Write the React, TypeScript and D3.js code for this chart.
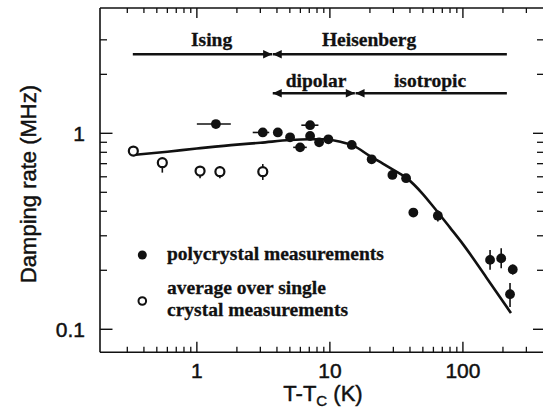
import React from 'react'
import { scaleLog, line, curveMonotoneX } from 'd3'

// polycrystal measurements (filled)
const polyT = [1.39, 3.13, 4.06, 5.02, 5.97, 7.1, 7.1, 8.3, 9.74, 14.6, 20.6, 29.5, 37.4, 42.4, 64.8, 160, 194, 237, 226]
const polyRate = [1.115, 1.01, 1.01, 0.954, 0.848, 1.1, 0.969, 0.9, 0.932, 0.872, 0.737, 0.613, 0.59, 0.394, 0.38, 0.226, 0.23, 0.202, 0.151]
// error bars on polycrystal points [index, lo, hi]
const polyTErr = [[0, 1.0, 1.8], [1, 2.63, 3.5], [4, 5.3, 6.7], [5, 6.1, 8.2]]
const polyRateErr = [[14, 0.355, 0.405], [15, 0.201, 0.254], [16, 0.205, 0.259], [17, 0.19, 0.214], [18, 0.13, 0.172]]

// average over single crystal measurements (open)
const singleT = [0.333, 0.55, 1.057, 1.49, 3.13]
const singleRate = [0.812, 0.708, 0.642, 0.637, 0.637]
const singleLo = [0.8, 0.63, 0.59, 0.59, 0.578]
const singleHi = [0.82, 0.73, 0.68, 0.68, 0.697]

// theory curve
const fitT = [0.333, 0.6, 1, 2, 3, 5, 7, 9, 12, 15, 20, 25, 30, 38, 50, 60, 80, 100, 150, 230]
const fitRate = [0.775, 0.806, 0.836, 0.876, 0.895, 0.924, 0.932, 0.932, 0.905, 0.865, 0.765, 0.7, 0.65, 0.589, 0.49, 0.422, 0.33, 0.272, 0.184, 0.121]

// regime arrows (T range) and labels
const ising = [0.33, 3.68]
const heisenberg = [3.72, 214]
const dipolar = [3.72, 15.4]
const isotropic = [15.6, 214]
const row1Rate = 2.53
const row2Rate = 1.6
const labelT = { Ising: 1.29, Heisenberg: 19.7, dipolar: 7.87, isotropic: 56.6 }
const label1Rate = 2.79
const label2Rate = 1.72

const xMajor = [1, 10, 100]
const xMinor = [0.3, 0.4, 0.5, 0.6, 0.7, 0.8, 0.9, 2, 3, 4, 5, 6, 7, 8, 9, 20, 30, 40, 50, 60, 70, 80, 90, 200, 300]
const yMajor = [0.1, 1]
const yMinor = [0.2, 0.3, 0.4, 0.5, 0.6, 0.7, 0.8, 0.9, 2, 3]

const serif = '"Liberation Serif", "Times New Roman", serif'
const sans = '"Liberation Sans", Arial, sans-serif'
const ink = '#111'

export default function App() {
  const W = 543, H = 415
  const left = 100, right = 543, top = 8, bottom = 352.3
  const x = scaleLog().domain([0.187, 400]).range([left, right])
  const y = scaleLog().domain([0.0763, 4.36]).range([bottom, top])

  const fit = line<number>().x((d, i) => x(fitT[i])).y((d, i) => y(fitRate[i])).curve(curveMonotoneX)

  const arrow = (from: number, to: number, rate: number, headLeft: boolean, headRight: boolean) => {
    const x0 = x(from), x1 = x(to), yy = y(rate)
    const L = 9, h = 4.3
    return (
      <g>
        <line x1={x0} x2={x1} y1={yy} y2={yy} stroke={ink} strokeWidth={2.6} />
        {headRight && <path d={`M${x1},${yy} L${x1 - L},${yy - h} L${x1 - L},${yy + h} Z`} fill={ink} />}
        {headLeft && <path d={`M${x0},${yy} L${x0 + L},${yy - h} L${x0 + L},${yy + h} Z`} fill={ink} />}
      </g>
    )
  }

  const sansText = { fontFamily: sans, fill: ink, stroke: ink, strokeWidth: 0.45 }
  const serifText = { fontFamily: serif, fontWeight: 'bold' as const, fontSize: 19.5, fill: ink, stroke: ink, strokeWidth: 0.3 }

  return (
    <div style={{ position: 'absolute', left: 0, top: 0 }}>
      <svg width={W} height={H} style={{ display: 'block', background: '#fff' }}>
        {/* frame */}
        <line x1={left} x2={right} y1={bottom} y2={bottom} stroke={ink} strokeWidth={1.6} />
        <line x1={left} x2={right} y1={top} y2={top} stroke={ink} strokeWidth={1.6} />
        <line x1={left} x2={left} y1={top} y2={bottom} stroke={ink} strokeWidth={1.6} />

        {/* x ticks */}
        {xMajor.map(v => (
          <g key={'xM' + v}>
            <line x1={x(v)} x2={x(v)} y1={bottom} y2={bottom - 10.5} stroke={ink} strokeWidth={1.4} />
            <line x1={x(v)} x2={x(v)} y1={top} y2={top + 10} stroke={ink} strokeWidth={1.4} />
            <text x={x(v)} y={378} textAnchor="middle" fontSize={21} {...sansText}>{v}</text>
          </g>
        ))}
        {xMinor.map(v => (
          <g key={'xm' + v}>
            <line x1={x(v)} x2={x(v)} y1={bottom} y2={bottom - 5.5} stroke={ink} strokeWidth={1.3} />
            <line x1={x(v)} x2={x(v)} y1={top} y2={top + 5} stroke={ink} strokeWidth={1.3} />
          </g>
        ))}

        {/* y ticks */}
        {yMajor.map(v => (
          <g key={'yM' + v}>
            <line x1={left} x2={left + 12.5} y1={y(v)} y2={y(v)} stroke={ink} strokeWidth={1.4} />
            <line x1={right} x2={right - 10} y1={y(v)} y2={y(v)} stroke={ink} strokeWidth={1.4} />
            <text x={85} y={y(v) + 7.8} textAnchor="end" fontSize={21} {...sansText}>{v}</text>
          </g>
        ))}
        {yMinor.map(v => (
          <g key={'ym' + v}>
            <line x1={left} x2={left + 7} y1={y(v)} y2={y(v)} stroke={ink} strokeWidth={1.3} />
            <line x1={right} x2={right - 6} y1={y(v)} y2={y(v)} stroke={ink} strokeWidth={1.3} />
          </g>
        ))}

        {/* axis labels */}
        <text x={323} y={401} textAnchor="middle" fontSize={22} {...sansText}>
          T-T<tspan fontSize={15} dy={5}>C</tspan><tspan dy={-5}> (K)</tspan>
        </text>
        <text transform="translate(36,184) rotate(-90)" textAnchor="middle" fontSize={22} {...sansText}>
          Damping rate (MHz)
        </text>

        {/* regime arrows */}
        {arrow(ising[0], ising[1], row1Rate, false, true)}
        {arrow(heisenberg[0], heisenberg[1], row1Rate, true, false)}
        {arrow(dipolar[0], dipolar[1], row2Rate, true, true)}
        {arrow(isotropic[0], isotropic[1], row2Rate, true, false)}
        {Object.entries(labelT).map(([k, t], i) => (
          <text key={k} x={x(t)} y={y(i < 2 ? label1Rate : label2Rate)} textAnchor="middle" {...serifText}>{k}</text>
        ))}

        {/* fit curve */}
        <path d={fit(fitT) || ''} fill="none" stroke={ink} strokeWidth={2.6} />

        {/* single crystal (open) */}
        {singleT.map((t, i) => (
          <g key={'s' + i}>
            <line x1={x(t)} x2={x(t)} y1={y(singleLo[i])} y2={y(singleHi[i])} stroke={ink} strokeWidth={1.6} />
            <circle cx={x(t)} cy={y(singleRate[i])} r={4.5} fill="#fff" stroke={ink} strokeWidth={2.2} />
          </g>
        ))}

        {/* polycrystal (filled) */}
        {polyTErr.map(([i, lo, hi]) => (
          <line key={'pt' + i} x1={x(lo)} x2={x(hi)} y1={y(polyRate[i])} y2={y(polyRate[i])} stroke={ink} strokeWidth={1.6} />
        ))}
        {polyRateErr.map(([i, lo, hi]) => (
          <line key={'pr' + i} x1={x(polyT[i])} x2={x(polyT[i])} y1={y(lo)} y2={y(hi)} stroke={ink} strokeWidth={1.6} />
        ))}
        {polyT.map((t, i) => (
          <circle key={'p' + i} cx={x(t)} cy={y(polyRate[i])} r={4.9} fill={ink} />
        ))}

        {/* legend */}
        <circle cx={142.3} cy={255} r={4.5} fill={ink} />
        <text x={167} y={260} {...serifText}>polycrystal measurements</text>
        <circle cx={142.3} cy={301} r={3.8} fill="#fff" stroke={ink} strokeWidth={2} />
        <text x={167} y={294} {...serifText}>average over single</text>
        <text x={167} y={316} {...serifText}>crystal measurements</text>
      </svg>
    </div>
  )
}
